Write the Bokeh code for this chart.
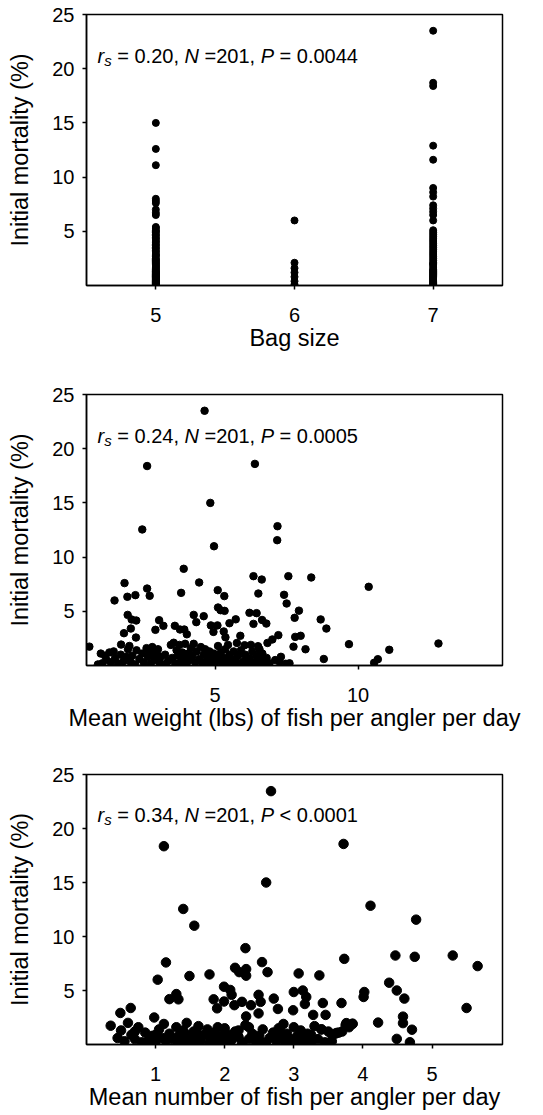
from bokeh.plotting import figure
from bokeh.layouts import column
from bokeh.models import Range1d, FixedTicker, Label
from bokeh.embed import file_html
from bokeh.resources import INLINE

FONT = "Liberation Sans"

# ---------------- data ----------------
# Panel 1: initial mortality (%) by bag size
bag_sizes = [5, 6, 7]
bag5_mort = [15.0, 12.6, 11.1, 8.0, 7.8, 7.6, 7.0, 6.7, 6.5,
             5.4, 5.3, 5.1, 5.0, 4.9, 4.7, 4.6, 4.4, 4.3, 4.1, 4.0, 3.8, 3.7, 3.5, 3.4,
             3.2, 3.1, 2.9, 2.8, 2.7, 2.5, 2.4, 2.3, 2.1, 2.0, 1.9, 1.8, 1.7, 1.6, 1.5,
             1.4, 1.3, 1.2, 1.1, 1.0, 0.9, 0.8, 0.7, 0.6, 0.5, 0.4, 0.3, 0.2, 0.1, 0.0,
             1.25, 0.95, 0.65, 0.35, 0.15, 0.55, 1.05, 0.75, 0.45, 0.25, 0.05, 2.2, 0.85]
bag6_mort = [6.0, 2.1, 1.6, 1.2, 0.8, 0.4, 0.1]
bag7_mort = [23.5, 18.7, 18.4, 12.9, 11.6, 9.0, 8.6, 8.2, 7.4, 7.1, 6.8, 6.5, 6.0,
             5.1, 4.9, 4.7, 4.5, 4.3, 4.1, 3.9, 3.7, 3.5, 3.3, 3.1, 2.9, 2.7, 2.5, 2.3,
             2.1, 1.9, 1.7, 1.5, 1.3, 1.1, 0.9, 0.7, 0.5, 0.3, 0.1, 0.0,
             1.2, 0.8, 0.4, 0.6, 1.4, 2.0, 0.2, 1.0]

# Panel 2: mean weight (lbs) of fish per angler per day vs initial mortality (%)
weight_x = [4.63, 2.62, 6.39, 4.83, 2.45, 4.96, 7.18, 7.17, 10.37, 12.81, 3.90, 6.34, 6.63,
            7.56, 8.36, 1.83, 2.62, 2.71, 2.21, 1.93, 1.48, 3.81, 4.44, 5.09, 5.32, 6.51,
            7.41, 7.50, 5.10, 5.19, 5.33, 6.20, 6.45, 7.93, 7.78, 8.69, 8.89, 9.68, 11.09,
            10.69, 10.56, 8.80, 8.16, 7.74, 7.99, 7.80, 7.21, 7.00, 6.83, 7.24, 7.47, 6.79,
            6.64, 6.34, 5.72, 5.50, 4.85, 5.08, 4.94, 5.30, 5.36, 4.60, 4.25, 4.34, 3.04,
            3.19, 2.91, 3.59, 3.77, 3.92, 4.01, 1.94, 2.08, 2.24, 2.05, 1.81, 2.23, 1.71,
            0.60, 5.88, 5.76, 6.03, 6.50,
            1.05, 1.15, 1.20, 1.30, 1.35, 1.45, 1.50, 1.60, 1.70, 1.80, 1.90, 1.95, 2.05,
            2.10, 2.20, 2.25, 2.35, 2.45, 2.50, 2.60, 2.65, 2.70, 2.75, 2.80, 2.85, 2.90,
            2.95, 3.05, 3.10, 3.20, 3.25, 3.35, 3.45, 3.50, 3.55, 3.60, 3.65, 3.70, 3.75,
            3.80, 3.85, 3.90, 3.95, 4.00, 4.05, 4.10, 4.15, 4.20, 4.30, 4.35, 4.45, 4.50,
            4.55, 4.60, 4.65, 4.70, 4.75, 4.80, 4.85, 4.90, 4.95, 5.00, 5.05, 5.10, 5.15,
            5.20, 5.25, 5.30, 5.35, 5.40, 5.50, 5.55, 5.60, 5.65, 5.70, 5.80, 5.85, 5.90,
            6.00, 6.05, 6.15, 6.20, 6.30, 6.35, 6.45, 6.50, 6.55, 6.60, 6.65, 6.70, 6.80,
            6.90, 7.10, 7.30, 7.60, 0.90, 1.00, 2.00, 3.00, 4.25, 5.45, 6.25]
weight_y = [23.5, 18.4, 18.6, 15.0, 12.55, 11.0, 12.85, 11.56, 7.26, 2.03, 8.92, 8.24, 7.93,
            8.24, 8.12, 7.6, 7.1, 6.43, 6.49, 6.34, 6.0, 6.7, 7.66, 6.95, 6.4, 6.64,
            6.52, 5.72, 5.35, 5.1, 5.04, 4.86, 4.83, 5.06, 4.4, 4.25, 3.41, 1.97, 1.45,
            0.58, 0.25, 0.6, 1.5, 1.74, 2.74, 2.64, 2.8, 2.4, 2.08, 0.37, 0.16, 3.87,
            4.2, 3.84, 4.26, 3.9, 3.7, 3.7, 3.1, 3.14, 2.6, 4.55, 4.67, 4.0, 4.18,
            3.66, 3.29, 3.66, 3.32, 3.32, 2.88, 4.67, 4.24, 4.15, 3.41, 2.98, 2.58, 1.93,
            1.74, 2.74, 2.08, 1.87, 1.78,
            0.2, 0.9, 0.5, 1.2, 0.3, 1.3, 0.7, 0.2, 1.0, 0.4, 0.8, 1.5, 0.3,
            0.9, 0.1, 1.4, 0.6, 1.1, 0.3, 1.6, 0.8, 1.3, 0.2, 1.7, 0.9, 0.5,
            1.2, 0.3, 0.8, 0.1, 1.0, 0.4, 1.9, 0.7, 2.1, 0.2, 1.4, 0.9, 1.9,
            0.3, 1.2, 0.6, 2.0, 0.1, 1.1, 0.5, 1.6, 0.9, 0.3, 1.3, 0.6, 1.7,
            0.2, 1.0, 1.5, 0.4, 0.8, 1.3, 0.2, 0.6, 1.1, 0.3, 0.9, 1.8, 0.5,
            1.2, 0.1, 0.7, 1.5, 0.3, 1.0, 0.5, 0.2, 1.3, 0.6, 0.9, 0.2, 1.4,
            0.4, 1.0, 0.2, 0.7, 1.3, 0.3, 0.9, 0.2, 1.5, 0.5, 1.1, 0.3, 0.7,
            0.2, 0.5, 0.8, 0.2, 0.1, 1.1, 1.8, 1.5, 2.0, 1.9, 1.9]

# Panel 3: mean number of fish per angler per day vs initial mortality (%)
number_x = [2.67, 1.12, 3.72, 2.60, 1.40, 1.56, 4.11, 4.77, 2.30, 4.47, 4.75, 5.30, 5.66,
            3.73, 1.15, 2.54, 2.15, 2.31, 2.21, 2.31, 2.62, 3.07, 3.37, 1.78, 1.49, 1.03,
            4.38, 1.99, 2.08, 2.10, 3.00, 3.13, 3.18, 4.02, 4.01, 4.49, 4.60, 2.49, 2.71,
            2.52, 2.38, 2.25, 2.14, 1.99, 1.84, 1.89, 1.20, 1.30, 1.33, 3.42, 3.16, 2.99,
            2.49, 2.31, 3.28, 3.46, 3.69, 2.77, 0.64, 0.49, 0.35, 0.98, 4.22, 4.58, 4.58,
            4.71, 5.50, 4.49, 4.68, 3.85, 3.76, 3.62, 3.40, 3.55,
            0.45, 0.50, 0.55, 0.60, 0.65, 0.70, 0.75, 0.80, 0.85, 0.90, 0.95, 1.00, 1.05,
            1.10, 1.12, 1.15, 1.20, 1.25, 1.30, 1.32, 1.35, 1.40, 1.42, 1.45, 1.50, 1.52,
            1.55, 1.60, 1.62, 1.65, 1.70, 1.75, 1.78, 1.80, 1.85, 1.90, 1.95, 2.00, 2.02,
            2.05, 2.10, 2.15, 2.20, 2.25, 2.30, 2.35, 2.40, 2.45, 2.50, 2.55, 2.60, 2.65,
            2.70, 2.75, 2.78, 2.80, 2.85, 2.88, 2.90, 2.95, 3.00, 3.02, 3.05, 3.10, 3.12,
            3.15, 3.20, 3.25, 3.30, 3.35, 3.40, 3.45, 3.50, 3.55, 3.60, 3.65, 3.70, 3.75,
            3.80, 3.85, 1.00, 1.30, 1.60, 1.90, 2.20, 2.50, 2.80, 3.10, 0.70, 1.45, 2.35,
            3.25]
number_y = [23.46, 18.36, 18.57, 15.0, 12.55, 11.0, 12.85, 11.56, 8.92, 8.24, 8.12, 8.24, 7.26,
            7.93, 7.6, 7.63, 7.1, 6.98, 6.7, 6.37, 6.7, 6.58, 6.4, 6.49, 6.34, 6.0,
            5.72, 5.35, 5.05, 4.6, 4.86, 5.0, 4.4, 4.86, 4.4, 5.0, 4.25, 4.6, 4.25,
            3.95, 3.64, 3.95, 3.64, 3.98, 4.18, 3.35, 4.2, 4.67, 4.18, 3.84, 3.75, 3.17,
            2.88, 2.6, 2.74, 2.74, 3.84, 3.29, 3.38, 2.92, 1.74, 2.5, 2.03, 2.58, 1.98,
            1.37, 3.38, 0.52, 0.21, 1.93, 1.98, 1.07, 1.4, 0.3,
            0.6, 1.3, 0.3, 2.0, 0.9, 0.5, 1.6, 0.2, 1.1, 0.4, 0.8, 0.2, 1.4,
            0.6, 1.9, 0.3, 1.0, 0.5, 1.6, 0.2, 0.9, 1.3, 0.4, 2.0, 0.7, 0.1,
            1.2, 0.5, 1.7, 0.3, 0.9, 1.4, 0.2, 0.6, 1.1, 0.3, 0.8, 1.5, 0.2,
            0.9, 0.4, 1.2, 0.7, 0.2, 1.8, 0.5, 1.0, 0.3, 0.8, 1.4, 0.2, 0.6,
            1.1, 0.3, 1.5, 0.7, 1.9, 0.2, 1.0, 0.5, 1.6, 0.1, 0.8, 1.3, 0.3,
            0.6, 1.0, 0.2, 1.7, 0.5, 1.4, 0.2, 1.2, 0.9, 1.0, 1.1, 1.2, 1.8,
            1.6, 1.9, 0.9, 0.6, 1.0, 1.6, 1.3, 0.4, 1.2, 0.4, 1.2, 0.9, 1.6,
            0.9]

y_ticks = [5, 10, 15, 20, 25]
stats = [("= 0.20,", "=201,", "= 0.0044"),
         ("= 0.24,", "=201,", "= 0.0005"),
         ("= 0.34,", "=201,", "< 0.0001")]
x_labels = ["Bag size",
            "Mean weight (lbs) of fish per angler per day",
            "Mean number of fish per angler per day"]
y_label = "Initial mortality (%)"

# Arial / Liberation Sans advance widths (per 1000 em)
W = {' ': 278, '=': 584, '<': 584, '.': 278, ',': 278, 'r': 333, 's': 500, 'N': 722, 'P': 667}
for d in "0123456789":
    W[d] = 556


def tw(t, size):
    return sum(W.get(c, 556) for c in t) * size / 1000.0


def style(p, xticks, xlabel, xl_standoff):
    p.xgrid.visible = False
    p.ygrid.visible = False
    p.outline_line_color = "black"
    p.outline_line_width = 1.5
    p.outline_line_alpha = 1
    p.background_fill_color = "white"
    p.border_fill_color = "white"
    p.yaxis.ticker = FixedTicker(ticks=y_ticks)
    p.xaxis.ticker = FixedTicker(ticks=xticks)
    for ax in (p.xaxis[0], p.yaxis[0]):
        ax.axis_line_color = "black"
        ax.axis_line_width = 1.5
        ax.major_tick_line_color = "black"
        ax.major_tick_line_width = 1.5
        ax.major_tick_in = 0
        ax.major_tick_out = 4
        ax.minor_tick_line_color = None
        ax.major_label_text_font = FONT
        ax.major_label_text_font_size = "20px"
        ax.major_label_text_color = "black"
        ax.axis_label_text_font = FONT
        ax.axis_label_text_font_size = "23.5px"
        ax.axis_label_text_font_style = "normal"
        ax.axis_label_text_color = "black"
    p.xaxis.axis_label = xlabel
    p.yaxis.axis_label = y_label
    p.xaxis.major_label_standoff = 18
    p.xaxis.axis_label_standoff = xl_standoff
    p.yaxis.major_label_standoff = 8
    p.yaxis.axis_label_standoff = 16


def add_stats(p, x0, st):
    size = 20
    px_per_unit = 271 / 25.0
    yb = 25 - 41.0 / px_per_unit
    ys = yb - 4.5 / px_per_unit
    # (text, style, font size, y, leading space before it)
    parts = [("r", "italic", size, yb, 0.0),
             ("s", "italic", 15, ys, 0.0),
             (st[0], "normal", size, yb, tw(" ", size)),
             ("N", "italic", size, yb, tw(" ", size)),
             (st[1], "normal", size, yb, tw(" ", size)),
             ("P", "italic", size, yb, tw(" ", size)),
             (st[2], "normal", size, yb, tw(" ", size))]
    cursor = 11.0
    for txt, fs, sz, yy, lead in parts:
        cursor += lead
        p.add_layout(Label(x=x0, y=yy, x_offset=cursor, text=txt,
                           text_font=FONT, text_font_size=f"{sz}px",
                           text_font_style=fs, text_color="black",
                           text_baseline="alphabetic", text_align="left"))
        cursor += tw(txt, sz)


# ---------------- panel 1 ----------------
p1 = figure(width=540, height=360, x_range=Range1d(4.5, 7.5), y_range=Range1d(0, 25),
            output_backend="svg", toolbar_location=None,
            min_border_left=86, min_border_right=37, min_border_top=14, min_border_bottom=75)
style(p1, bag_sizes, x_labels[0], 0)
bag_x = [bag_sizes[0]] * len(bag5_mort) + [bag_sizes[1]] * len(bag6_mort) + [bag_sizes[2]] * len(bag7_mort)
bag_y = bag5_mort + bag6_mort + bag7_mort
p1.scatter(bag_x, bag_y, size=7, marker="circle", fill_color="black", line_color="black")
add_stats(p1, 4.5, stats[0])

# ---------------- panel 2 ----------------
p2 = figure(width=540, height=380, x_range=Range1d(0.5, 15.05), y_range=Range1d(0, 25),
            output_backend="svg", toolbar_location=None,
            min_border_left=83, min_border_right=37, min_border_top=34, min_border_bottom=75)
style(p2, [5, 10], x_labels[1], 0)
p2.scatter(weight_x, weight_y, size=7.5, marker="circle", fill_color="black", line_color="black")
add_stats(p2, 0.5, stats[1])

# ---------------- panel 3 ----------------
p3 = figure(width=540, height=372, x_range=Range1d(0, 6.02), y_range=Range1d(0, 25),
            output_backend="svg", toolbar_location=None,
            min_border_left=82, min_border_right=38, min_border_top=34, min_border_bottom=67)
style(p3, [1, 2, 3, 4, 5], x_labels[2], 0)
p3.scatter(number_x, number_y, size=9.5, marker="circle", fill_color="black", line_color="black")
add_stats(p3, 0, stats[2])

layout = column(p1, p2, p3)
open("out.html", "w").write(file_html(layout, INLINE))
